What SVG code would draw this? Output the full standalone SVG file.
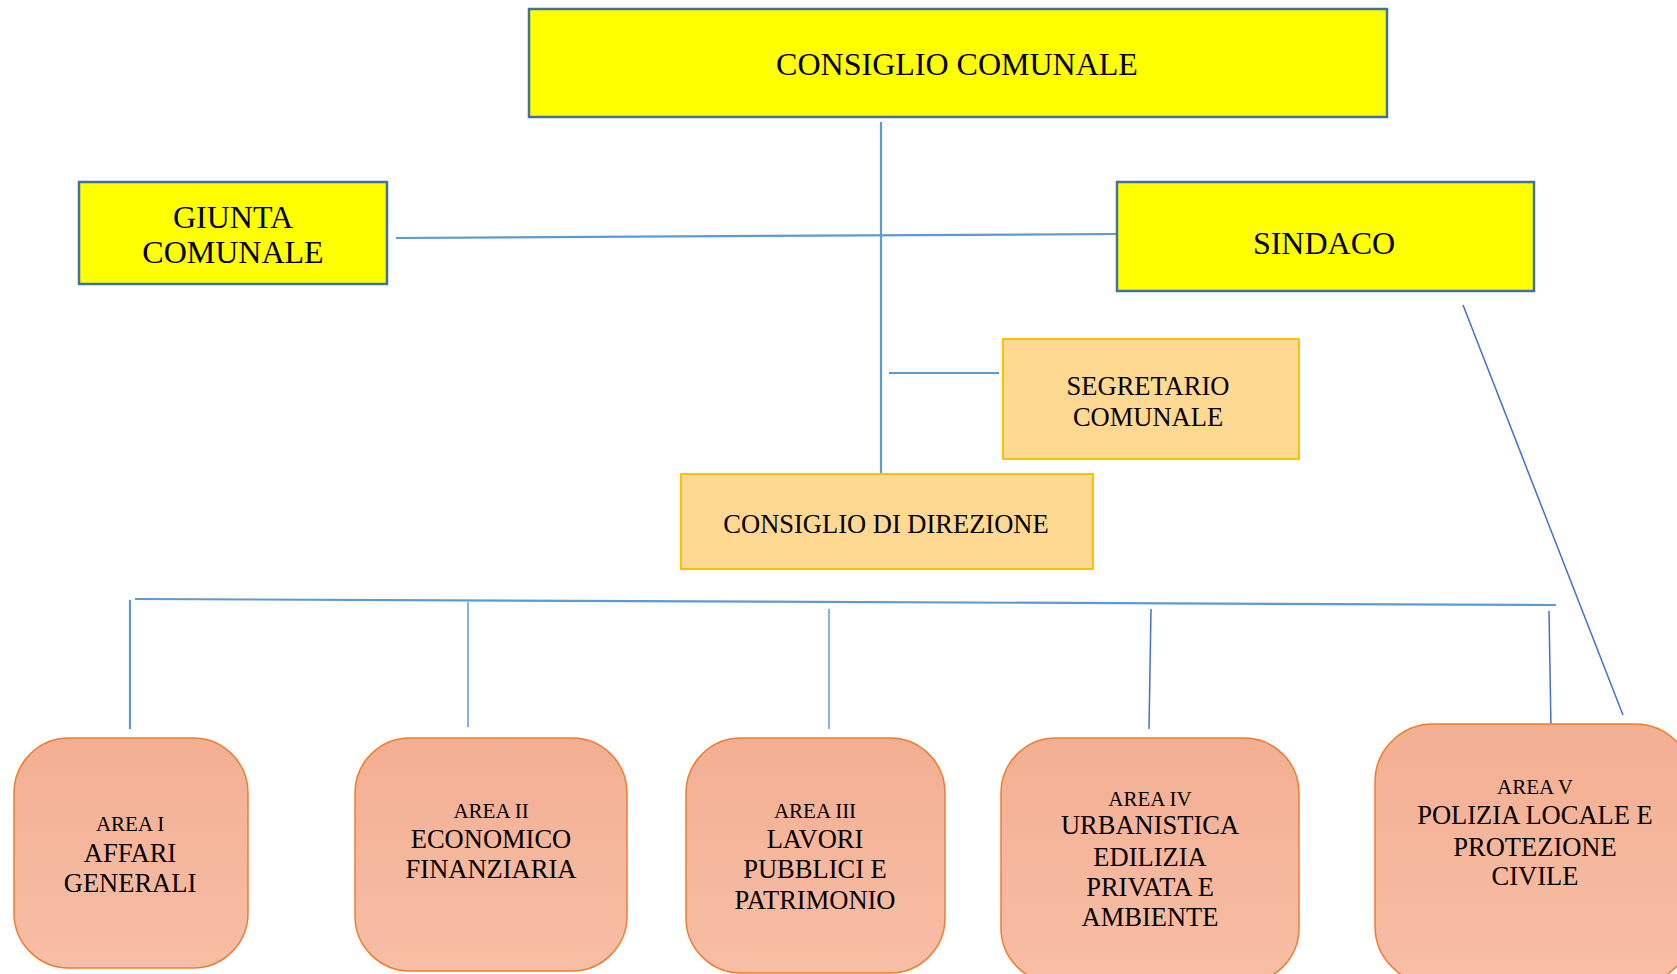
<svg xmlns="http://www.w3.org/2000/svg" width="1677" height="974" viewBox="0 0 1677 974">
<defs>
<linearGradient id="salmon" x1="0" y1="0" x2="0" y2="1">
<stop offset="0" stop-color="#F3AF92"/>
<stop offset="1" stop-color="#F7BEA6"/>
</linearGradient>
<style>
text{font-family:"Liberation Serif","Times New Roman",serif;fill:#000;text-anchor:middle}
.big{font-size:32px}
.mid{font-size:26.5px}
.sm{font-size:21px}
.yel{fill:#FFFF00;stroke:#41719C;stroke-width:2.5}
.ora{fill:#FFD891;stroke:#FFC000;stroke-width:2}
.area{fill:url(#salmon);stroke:#ED7D31;stroke-width:1.5}
.ln{stroke:#5B9BD5;stroke-width:1.5;fill:none}
.ln2{stroke:#5B9BD5;stroke-width:2.2;fill:none}
.dg{stroke:#4472C4;stroke-width:1.5;fill:none}
</style>
</defs>
<rect width="1677" height="974" fill="#fff"/>
<g id="connectors">
<line class="ln2" x1="881" y1="122" x2="881" y2="473"/>
<line class="ln2" x1="396" y1="238" x2="1117" y2="234"/>
<line class="ln2" x1="889" y1="373" x2="999" y2="373"/>
<line class="ln2" x1="135" y1="599" x2="1556" y2="605"/>
<line class="ln2" x1="130" y1="600" x2="130" y2="729"/>
<line class="ln" x1="468" y1="602" x2="468" y2="727"/>
<line class="ln" x1="829" y1="609" x2="829" y2="729"/>
<line class="dg" x1="1151" y1="609" x2="1149" y2="729"/>
<line class="dg" x1="1549" y1="611" x2="1551" y2="729"/>
<line class="dg" x1="1463" y1="305" x2="1623" y2="715"/>
</g>
<g id="consiglio-comunale">
<rect class="yel" x="529" y="9" width="858" height="108"/>
<text class="big" x="957" y="75">CONSIGLIO COMUNALE</text>
</g>
<g id="giunta-comunale">
<rect class="yel" x="79" y="182" width="308" height="102"/>
<text class="big" x="233" y="228">GIUNTA</text>
<text class="big" x="233" y="263">COMUNALE</text>
</g>
<g id="sindaco">
<rect class="yel" x="1117" y="182" width="417" height="109"/>
<text class="big" x="1324" y="254">SINDACO</text>
</g>
<g id="segretario-comunale">
<rect class="ora" x="1003" y="339" width="296" height="120"/>
<text class="mid" x="1148" y="395">SEGRETARIO</text>
<text class="mid" x="1148" y="426">COMUNALE</text>
</g>
<g id="consiglio-di-direzione">
<rect class="ora" x="681" y="474" width="412" height="95"/>
<text class="mid" x="886" y="533">CONSIGLIO DI DIREZIONE</text>
</g>
<g id="area-1">
<rect class="area" x="14" y="738" width="234" height="230" rx="55" ry="55"/>
<text class="sm" x="130" y="831">AREA I</text>
<text class="mid" x="130" y="862">AFFARI</text>
<text class="mid" x="130" y="892">GENERALI</text>
</g>
<g id="area-2">
<rect class="area" x="355" y="738" width="272" height="233" rx="55" ry="55"/>
<text class="sm" x="491" y="818">AREA II</text>
<text class="mid" x="491" y="848">ECONOMICO</text>
<text class="mid" x="491" y="878">FINANZIARIA</text>
</g>
<g id="area-3">
<rect class="area" x="686" y="738" width="259" height="235" rx="55" ry="55"/>
<text class="sm" x="815" y="818">AREA III</text>
<text class="mid" x="815" y="848">LAVORI</text>
<text class="mid" x="815" y="878">PUBBLICI E</text>
<text class="mid" x="815" y="909">PATRIMONIO</text>
</g>
<g id="area-4">
<rect class="area" x="1001" y="738" width="298" height="245" rx="55" ry="55"/>
<text class="sm" x="1150" y="806">AREA IV</text>
<text class="mid" x="1150" y="834">URBANISTICA</text>
<text class="mid" x="1150" y="866">EDILIZIA</text>
<text class="mid" x="1150" y="896">PRIVATA E</text>
<text class="mid" x="1150" y="926">AMBIENTE</text>
</g>
<g id="area-5">
<rect class="area" x="1375" y="724" width="318" height="260" rx="58" ry="58"/>
<text class="sm" x="1535" y="794">AREA V</text>
<text class="mid" x="1535" y="824">POLIZIA LOCALE E</text>
<text class="mid" x="1535" y="856">PROTEZIONE</text>
<text class="mid" x="1535" y="885">CIVILE</text>
</g>
</svg>
